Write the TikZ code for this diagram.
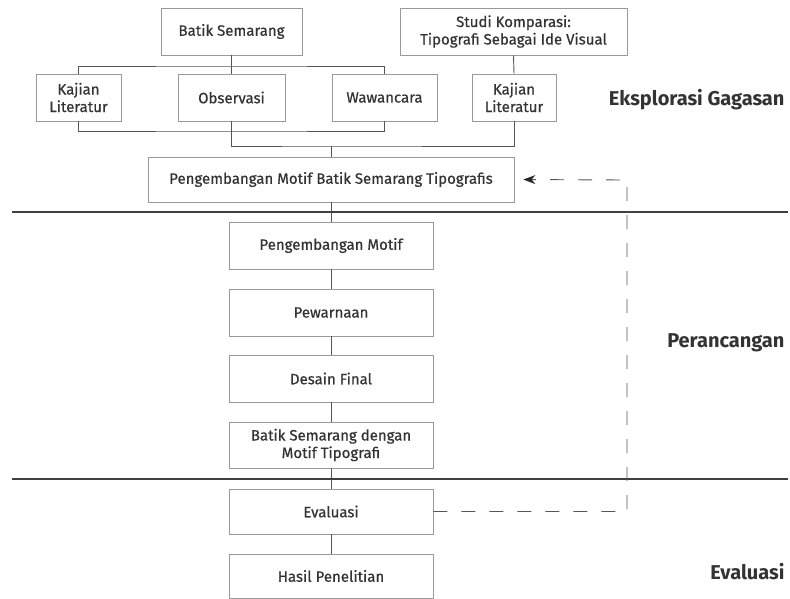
\documentclass[tikz,border=0pt]{standalone}
\usepackage{fontspec}
\setmainfont{Fira Sans}
\newfontfamily\boxfont[FakeBold=0.6]{Fira Sans}
\usetikzlibrary{arrows.meta}
\definecolor{txt}{HTML}{333333}
\definecolor{boxline}{HTML}{9A9A9A}
\definecolor{conn}{HTML}{555555}
\begin{document}
\begin{tikzpicture}[x=1pt,y=-1pt,
  box/.style={draw=boxline,line width=0.8pt,fill=white,text=txt,align=center,inner sep=2pt,font=\boxfont\fontsize{15}{17.5}\selectfont},
  conn/.style={draw=conn,line width=0.9pt},
  sep/.style={draw=black!75,line width=2.6pt},
  fb/.style={draw=conn,line width=0.9pt,dash pattern=on 14pt off 14pt},
  lab/.style={anchor=east,text=txt,font=\bfseries\fontsize{20}{24}\selectfont}]
\useasboundingbox (0,0) rectangle (790,598);
\node[box,minimum width=141pt,minimum height=47pt] (bs) at (231.5,31.5) {Batik Semarang};
\node[box,minimum width=227pt,minimum height=47pt] (sk) at (513.5,31.5) {Studi Komparasi:\\Tipografi Sebagai Ide Visual};
\node[box,minimum width=85pt,minimum height=47pt] (kl1) at (78.5,97.5) {Kajian\\Literatur};
\node[box,minimum width=107pt,minimum height=47pt] (obs) at (231.5,97.5) {Observasi};
\node[box,minimum width=105pt,minimum height=47pt] (waw) at (384.5,97.5) {Wawancara};
\node[box,minimum width=84pt,minimum height=47pt] (kl2) at (514,97.5) {Kajian\\Literatur};
\node[box,minimum width=366pt,minimum height=45pt] (pmbst) at (331,179.5) {Pengembangan Motif Batik Semarang Tipografis};
\node[box,minimum width=204pt,minimum height=47pt] (pm) at (331,245.5) {Pengembangan Motif};
\node[box,minimum width=204pt,minimum height=47pt] (pew) at (331,312.5) {Pewarnaan};
\node[box,minimum width=204pt,minimum height=47pt] (df) at (331,378.5) {Desain Final};
\node[box,minimum width=204pt,minimum height=46pt] (bsmt) at (331,445) {Batik Semarang dengan\\Motif Tipografi};
\node[box,minimum width=204pt,minimum height=45pt] (ev) at (331,511.5) {Evaluasi};
\node[box,minimum width=204pt,minimum height=44pt] (hp) at (331,576) {Hasil Penelitian};
\node[lab] (l1) at (788,100) {Eksplorasi Gagasan};
\node[lab] (l2) at (788,343) {Perancangan};
\node[lab] (l3) at (788,572) {Evaluasi};
\coordinate (bustop) at (231.5,66);
\coordinate (busbot) at (231.5,131);
\coordinate (bus2) at (331,146);
\coordinate (d1) at (627,180);
\coordinate (s1a) at (12,212);
\coordinate (s1b) at (788,212);
\coordinate (s2a) at (12,479);
\coordinate (s2b) at (788,479);
\draw[conn] (bs.south) -- (bustop);
\draw[conn] (kl1.north) |- (bustop) -| (waw.north);
\draw[conn] (bustop) -- (obs.north);
\draw[conn] (kl1.south) |- (busbot) -| (waw.south);
\draw[conn] (obs.south) |- (bus2) -| (kl2.south);
\draw[conn] (bus2) -- (pmbst.north);
\draw[conn] (sk.south) -- (kl2.north);
\draw[conn] (pmbst.south) -- (pm.north);
\draw[conn] (pm.south) -- (pew.north);
\draw[conn] (pew.south) -- (df.north);
\draw[conn] (df.south) -- (bsmt.north);
\draw[conn] (bsmt.south) -- (ev.north);
\draw[conn] (ev.south) -- (hp.north);
\draw[sep] (s1a) -- (s1b);
\draw[sep] (s2a) -- (s2b);
\draw[fb,-{Stealth[length=12pt,width=9pt,color=black!85]},shorten >=9pt] (ev.east) -| (d1) -- (pmbst.east);
\end{tikzpicture}
\end{document}
